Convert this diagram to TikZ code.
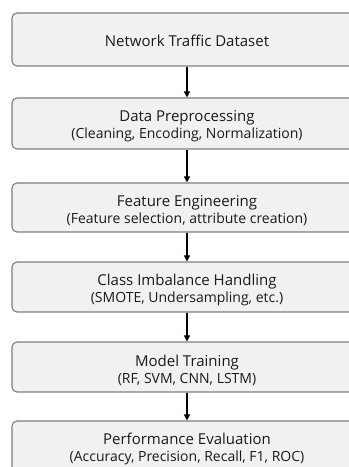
\documentclass[tikz,border=0pt]{standalone}
\usepackage{fontspec}
\setmainfont{Open Sans}
\usetikzlibrary{arrows.meta}
\definecolor{boxfill}{HTML}{F1F1F1}
\definecolor{boxline}{HTML}{7E7E7E}
\definecolor{ink}{HTML}{1A1A1A}
\tikzset{
  stage/.style={draw=boxline, fill=boxfill, line width=1.1bp, rounded corners=5bp,
    minimum width=350bp, inner sep=0pt},
  caption/.style={align=center, text=ink, inner sep=0pt,
    font=\fontsize{15bp}{17bp}\selectfont},
  flow/.style={-{Triangle[length=6bp,width=6bp]}, line width=1.3bp, draw=black},
}
\newcommand{\sub}[1]{{\fontsize{14bp}{17bp}\selectfont #1}}
\begin{document}
\begin{tikzpicture}[x=1bp,y=-1bp]
  \useasboundingbox[fill=white] (0,0) rectangle (348,467);
  % stage boxes
  \node[stage, minimum height=53bp] (s1) at (187,39.5) {};
  \node[stage, minimum height=51bp] (s2) at (187,123.5) {};
  \node[stage, minimum height=49bp] (s3) at (187,207.5) {};
  \node[stage, minimum height=50bp] (s4) at (187,287) {};
  \node[stage, minimum height=50bp] (s5) at (187,367) {};
  \node[stage, minimum height=50bp] (s6) at (187,446) {};
  % captions, sitting slightly below each box centre
  \node[caption] (t1) at ([yshift=-1bp]s1.center) {Network Traffic Dataset};
  \node[caption] (t2) at ([yshift=-3bp]s2.center) {Data Preprocessing\\\sub{(Cleaning, Encoding, Normalization)}};
  \node[caption] (t3) at ([yshift=-3bp]s3.center) {Feature Engineering\\\sub{(Feature selection, attribute creation)}};
  \node[caption] (t4) at ([yshift=-3bp]s4.center) {Class Imbalance Handling\\\sub{(SMOTE, Undersampling, etc.)}};
  \node[caption] (t5) at ([yshift=-3bp]s5.center) {Model Training\\\sub{(RF, SVM, CNN, LSTM)}};
  \node[caption] (t6) at ([yshift=-3bp]s6.center) {Performance Evaluation\\\sub{(Accuracy, Precision, Recall, F1, ROC)}};
  % arrows between consecutive stages
  \foreach \a/\b in {s1/s2,s2/s3,s3/s4,s4/s5,s5/s6}
    \draw[flow] (\a.south) -- (\b.north);
\end{tikzpicture}
\end{document}
